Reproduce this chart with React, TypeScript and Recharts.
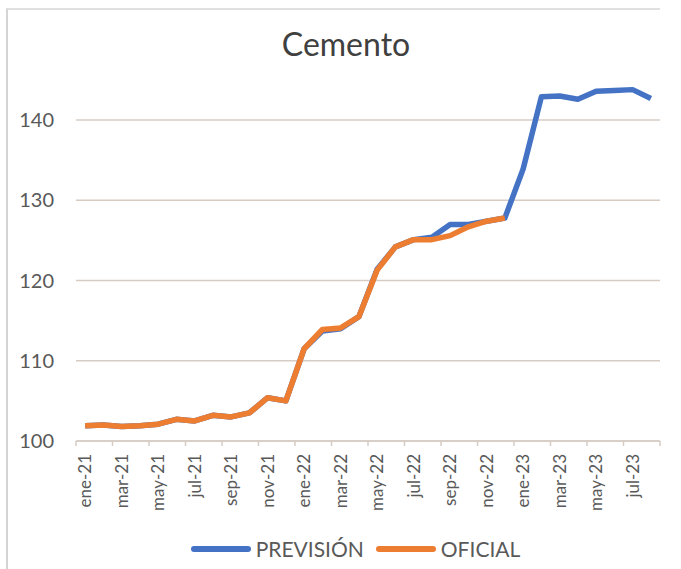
import React from 'react';
import { LineChart, Line, XAxis, YAxis, CartesianGrid, Legend } from 'recharts';

const months = [
  'ene-21', 'feb-21', 'mar-21', 'abr-21', 'may-21', 'jun-21', 'jul-21', 'ago-21', 'sep-21', 'oct-21', 'nov-21', 'dic-21',
  'ene-22', 'feb-22', 'mar-22', 'abr-22', 'may-22', 'jun-22', 'jul-22', 'ago-22', 'sep-22', 'oct-22', 'nov-22', 'dic-22',
  'ene-23', 'feb-23', 'mar-23', 'abr-23', 'may-23', 'jun-23', 'jul-23', 'ago-23',
];

const prevision = [
  101.9, 102.0, 101.8, 101.9, 102.1, 102.7, 102.5, 103.2, 103.0, 103.5, 105.4, 105.0,
  111.5, 113.7, 114.0, 115.5, 121.4, 124.2, 125.1, 125.4, 127.0, 127.0, 127.4, 127.8,
  133.9, 142.9, 143.0, 142.6, 143.6, 143.7, 143.8, 142.7,
];

const oficial: (number | null)[] = [
  101.9, 102.0, 101.8, 101.9, 102.1, 102.7, 102.5, 103.2, 103.0, 103.5, 105.4, 105.0,
  111.5, 113.9, 114.1, 115.5, 121.3, 124.2, 125.1, 125.1, 125.6, 126.7, 127.4, 127.8,
  null, null, null, null, null, null, null, null,
];

const seriesNames = ['PREVISIÓN', 'OFICIAL'];
const yTicks = [100, 110, 120, 130, 140];

const data = months.map((m, i) => ({ x: i + 0.5, month: m, prevision: prevision[i], oficial: oficial[i] }));
const xTicks = months.filter((_, i) => i % 2 === 0).map((_, k) => k * 2).concat([months.length]);

const W = 681;
const H = 569;
const M = { top: 80, right: 21, bottom: 0, left: 0 };
const Y_W = 76;
const PLOT_W = W - M.left - M.right - Y_W;
const CAT_W = PLOT_W / months.length;

const BLUE = '#4472C4';
const ORANGE = '#ED7D31';
const TEXT = '#595959';
const GRID = '#d6ccc4';
const FONT = 'Lato, "Open Sans", sans-serif';

const XTick = (props: any) => {
  const { x, y, payload } = props;
  const i = payload.value;
  if (i >= months.length) return null;
  const cx = x + CAT_W / 2;
  return (
    <text
      x={cx}
      y={y}
      transform={`rotate(-90, ${cx}, ${y})`}
      textAnchor="end"
      dy="0.35em"
      fill={TEXT}
      fontSize={17}
      fontFamily={FONT}
    >
      {months[i]}
    </text>
  );
};

const LegendContent = (props: any) => {
  const items = [...(props.payload || [])].sort(
    (a: any, b: any) => seriesNames.indexOf(a.value) - seriesNames.indexOf(b.value)
  );
  return (
    <div style={{ display: 'flex', justifyContent: 'center', alignItems: 'center', fontFamily: FONT }}>
      {items.map((it: any, k: number) => (
        <div key={k} style={{ display: 'flex', alignItems: 'center', marginLeft: k === 0 ? 0 : 12 }}>
          <div style={{ width: 60, height: 6, borderRadius: 3, background: it.color }} />
          <span style={{ marginLeft: 5, fontSize: 21, color: TEXT }}>{it.value}</span>
        </div>
      ))}
    </div>
  );
};

export default function App() {
  return (
    <div style={{ position: 'absolute', left: 0, top: 0, width: W, height: H, background: '#fff', overflow: 'hidden' }}>
      <div
        style={{
          position: 'absolute',
          left: 6,
          top: 8,
          width: 652,
          height: 600,
          borderLeft: '2px solid #d4d4d4',
          borderTop: '2px solid #e0e0e0',
        }}
      />
      <div
        style={{
          position: 'absolute',
          left: 0,
          width: 692,
          top: 24,
          textAlign: 'center',
          fontFamily: FONT,
          fontSize: 32,
          color: '#404040',
        }}
      >
        Cemento
      </div>
      <LineChart width={W} height={H} data={data} margin={M}>
        <CartesianGrid horizontal vertical={false} horizontalValues={yTicks} stroke={GRID} strokeWidth={1.5} />
        <XAxis
          type="number"
          dataKey="x"
          domain={[0, months.length]}
          ticks={xTicks}
          interval={0}
          height={H - 441 - M.bottom}
          tickSize={5}
          tickMargin={8}
          axisLine={{ stroke: GRID, strokeWidth: 1.5 }}
          tickLine={{ stroke: GRID, strokeWidth: 1.5 }}
          tick={<XTick />}
          allowDataOverflow
        />
        <YAxis
          type="number"
          domain={[100, 145]}
          ticks={yTicks}
          width={Y_W}
          axisLine={false}
          tickLine={false}
          tickSize={0}
          tickMargin={22}
          tick={{ fill: TEXT, fontSize: 20, fontFamily: FONT }}
        />
        <Legend
          verticalAlign="middle"
          align="center"
          layout="horizontal"
          wrapperStyle={{ top: 536, left: 15, width: W }}
          content={<LegendContent />}
        />
        <Line
          type="linear"
          dataKey="prevision"
          name="PREVISIÓN"
          stroke={BLUE}
          strokeWidth={5.5}
          dot={false}
          isAnimationActive={false}
          strokeLinejoin="round"
        />
        <Line
          type="linear"
          dataKey="oficial"
          name="OFICIAL"
          stroke={ORANGE}
          strokeWidth={5.5}
          dot={false}
          isAnimationActive={false}
          connectNulls={false}
          strokeLinejoin="round"
        />
      </LineChart>
    </div>
  );
}
